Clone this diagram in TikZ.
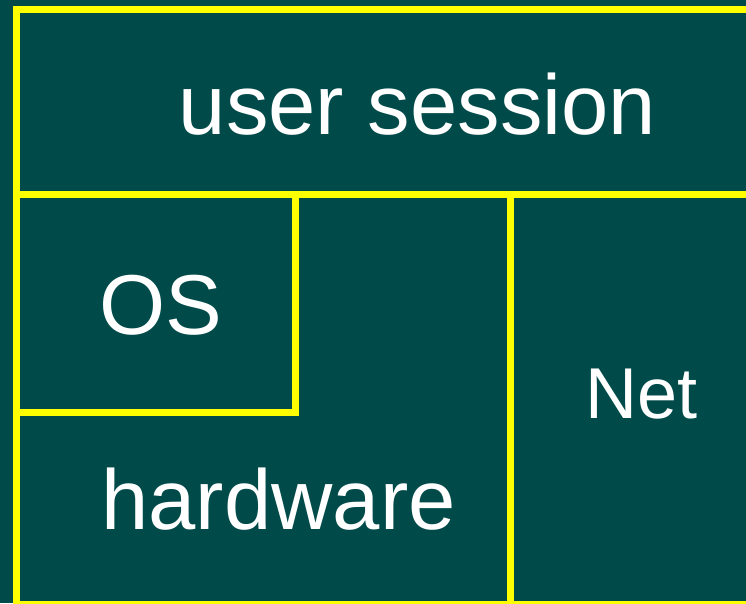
\documentclass[tikz,border=0pt]{standalone}
\usepackage{fontspec}
\setmainfont{Liberation Sans}
\definecolor{panelbg}{RGB}{0,75,73}
\definecolor{rule}{RGB}{255,255,0}
\begin{document}
\begin{tikzpicture}[x=1pt,y=-1pt,
  divider/.style={draw=rule,line width=7pt},
  label/.style={text=white,inner sep=0pt,anchor=base,font=\fontsize{85}{90}\selectfont}]
  % page area and background
  \fill[panelbg] (0,0) rectangle (746,603);
  \useasboundingbox (0,0) rectangle (746,603);
  \begin{scope}
    \clip (0,0) rectangle (746,603);
    % outer frame: left edge and top edge
    \draw[divider,line join=miter] (16.5,620) -- (16.5,9) -- (760,9);
    % bottom edge
    \draw[divider] (13,604.5) -- (760,604.5);
    % separator under the session band
    \draw[divider] (20,194) -- (760,194);
    % OS box inside the hardware area
    \draw[divider,line join=miter] (295,194) -- (295,412.7) -- (20,412.7);
    % separator between hardware and network
    \draw[divider] (510,194) -- (510,620);
  \end{scope}
  % labels
  \node[label] (session) at (417.5,134) {user session};
  \node[label] (os) at (160.5,334) {OS};
  \node[label] (hw) at (278.5,529) {hardware};
  \node[label,font=\fontsize{72}{80}\selectfont] (net) at (641.5,418) {Net};
\end{tikzpicture}
\end{document}
